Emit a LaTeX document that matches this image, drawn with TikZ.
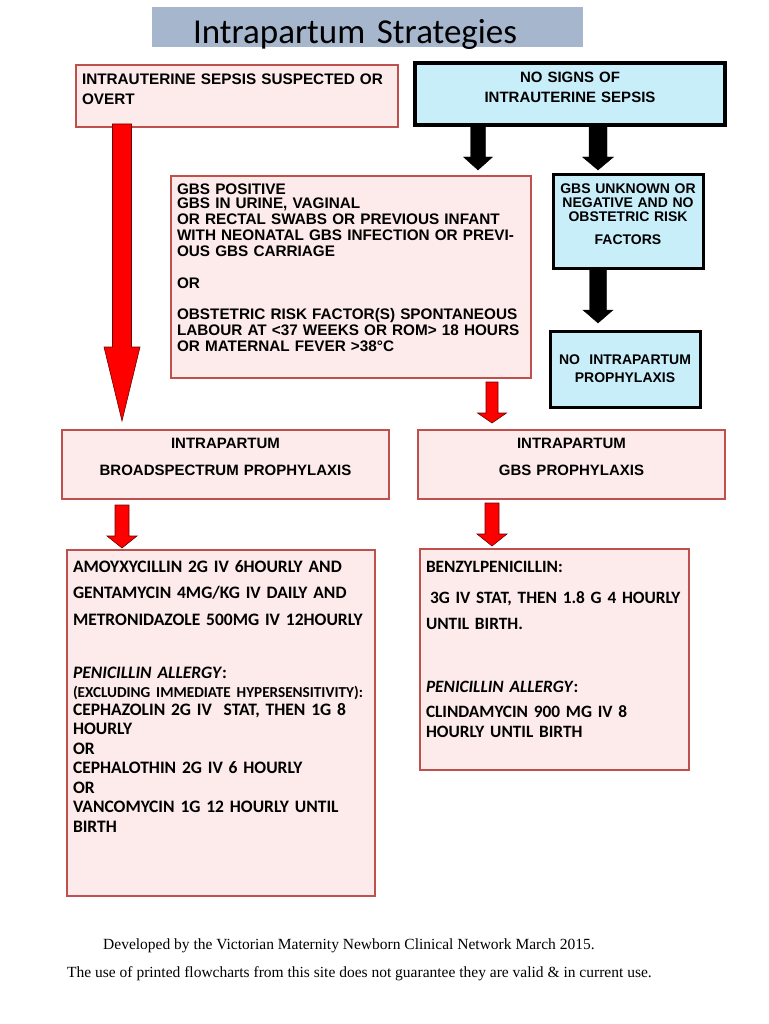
\documentclass[tikz,border=0pt]{standalone}
\usepackage{fontspec}
\setmainfont{Liberation Sans}
\newfontfamily\calibri{Carlito}
\newfontfamily\timesfont{Liberation Serif}
\usepackage{xcolor}
\usetikzlibrary{calc}
\definecolor{boxred}{RGB}{192,80,77}
\definecolor{pinkfill}{RGB}{253,234,234}
\definecolor{bluefill}{RGB}{200,238,250}
\definecolor{titlefill}{RGB}{166,182,204}
\definecolor{arrowred}{RGB}{255,0,0}
\definecolor{arrowedge}{RGB}{110,0,0}
% block arrow: style, from, to, half shaft, half head, head length
\newcommand{\blockarrow}[6]{%
  \filldraw[#1] let \p1=(#2), \p2=(#3) in
    (\x1-#4,\y1) -- (\x1+#4,\y1) -- (\x1+#4,\y2+#6) -- (\x1+#5,\y2+#6)
    -- (\x1,\y2) -- (\x1-#5,\y2+#6) -- (\x1-#4,\y2+#6) -- cycle;}

\begin{document}
\begin{tikzpicture}[
    x=1pt, y=-1pt,
    redbox/.style={draw=boxred, line width=2.5pt, fill=pinkfill, anchor=north west, outer sep=0pt,
      inner xsep=6pt, inner ysep=0pt, align=left, font=\bfseries\fontsize{15.3}{16}\selectfont},
    bluebox/.style={draw=black, line width=3.5pt, fill=bluefill, anchor=north west, outer sep=0pt,
      inner xsep=4pt, inner ysep=0pt, align=center, font=\bfseries\fontsize{14}{14}\selectfont},
    redarr/.style={fill=arrowred, draw=arrowedge, line width=0.6pt},
    blackarr/.style={fill=black, draw=black, line width=0.4pt},
    note/.style={font=\timesfont\fontsize{15.5}{17}\selectfont, anchor=west, inner sep=0pt}
]
  \path[fill=white] (0,0) rectangle (768,1024);
  \useasboundingbox (0,0) rectangle (768,1024);

  % title
  \node[fill=titlefill, anchor=north west, outer sep=0pt, inner xsep=41pt, inner ysep=0pt,
    text width=349pt, text height=37pt, text depth=3pt, align=left,
    font=\calibri\fontsize{35}{36}\selectfont] (title) at (152,7) {Intrapartum Strategies};

  % top boxes
  \node[redbox, text width=310pt, text height=19.5pt, text depth=42.5pt,
    font=\bfseries\fontsize{15.3}{20}\selectfont] (sepsis) at (76,65)
    {INTRAUTERINE SEPSIS SUSPECTED OR\\OVERT};
  \node[bluebox, text width=302pt, text height=19.5pt, text depth=42.5pt,
    font=\bfseries\fontsize{15}{20}\selectfont] (nosigns) at (415,63)
    {NO SIGNS OF\\INTRAUTERINE SEPSIS};

  % risk boxes
  \node[redbox, text width=348pt, text height=18.5pt, text depth=183.5pt] (gbspos) at (171,176)
    {GBS POSITIVE\\[-2pt]
     GBS IN URINE, VAGINAL\\
     OR RECTAL SWABS OR PREVIOUS INFANT\\
     WITH NEONATAL GBS INFECTION OR PREVI-\\
     OUS GBS CARRIAGE\\[16pt]
     OR\\[15pt]
     OBSTETRIC RISK FACTOR(S) SPONTANEOUS\\
     LABOUR AT <37 WEEKS OR ROM> 18 HOURS\\
     OR MATERNAL FEVER >38°C};
  \node[bluebox, line width=3pt, text width=142pt, text height=19pt, text depth=74pt] (gbsunk) at (553,175)
    {GBS UNKNOWN OR\\NEGATIVE AND NO\\OBSTETRIC RISK\\[9pt]FACTORS};
  \node[bluebox, line width=3pt, text width=142pt, text height=33pt, text depth=43pt,
    font=\bfseries\fontsize{14}{18}\selectfont] (noip) at (550,331)
    {NO~ INTRAPARTUM\\PROPHYLAXIS};

  % prophylaxis boxes
  \node[redbox, align=center, text width=315pt, text height=18.5pt, text depth=50.5pt,
    font=\bfseries\fontsize{15}{27}\selectfont] (broad) at (62,430)
    {INTRAPARTUM\\BROADSPECTRUM PROPHYLAXIS};
  \node[redbox, align=center, text width=295pt, text height=18.5pt, text depth=50.5pt,
    font=\bfseries\fontsize{15}{27}\selectfont] (gbsip) at (418,430)
    {INTRAPARTUM\\GBS PROPHYLAXIS};

  % drug boxes
  \node[redbox, text width=296pt, text height=22pt, text depth=324pt,
    font=\calibri\bfseries\fontsize{17.5}{19.5}\selectfont] (bigleft) at (67,550)
    {AMOYXYCILLIN 2G IV 6HOURLY AND\\[6.5pt]
     GENTAMYCIN 4MG/KG IV DAILY AND\\[7.5pt]
     METRONIDAZOLE 500MG IV 12HOURLY\\[33.5pt]
     \textit{PENICILLIN ALLERGY}:\\[-0.5pt]
     {\fontsize{15.2}{19.5}\selectfont (EXCLUDING IMMEDIATE HYPERSENSITIVITY):}\\[-1.5pt]
     CEPHAZOLIN 2G IV~ STAT, THEN 1G 8\\
     HOURLY\\
     OR\\
     CEPHALOTHIN 2G IV 6 HOURLY\\
     OR\\
     VANCOMYCIN 1G 12 HOURLY UNTIL\\
     BIRTH};
  \node[redbox, text width=257pt, text height=23.5pt, text depth=197.5pt,
    font=\calibri\bfseries\fontsize{17.3}{20}\selectfont] (bigright) at (420,549)
    {BENZYLPENICILLIN:\\[11pt]
     \hspace*{4pt}3G IV STAT, THEN 1.8 G 4 HOURLY\\[6pt]
     UNTIL BIRTH.\\[43pt]
     \textit{PENICILLIN ALLERGY}:\\[5pt]
     CLINDAMYCIN 900 MG IV 8\\
     HOURLY UNTIL BIRTH};

  % arrow columns
  \coordinate (lcol) at (122,0);
  \coordinate (mcol) at (478,0);
  \coordinate (rcol) at (598,0);
  \coordinate (gcol) at (492,0);

  % Arrows
  \blockarrow{redarr}{$(sepsis.south -| lcol)+(0,-3)$}{$(broad.north -| lcol)+(0,-9)$}{9.5pt}{18pt}{74pt}
  \blockarrow{blackarr}{$(nosigns.south -| mcol)+(0,2)$}{$(gbspos.north -| mcol)+(0,-6)$}{7.5pt}{14.5pt}{13pt}
  \blockarrow{blackarr}{$(nosigns.south -| rcol)+(0,2)$}{$(gbsunk.north -| rcol)+(0,-5)$}{9pt}{15.5pt}{13pt}
  \blockarrow{blackarr}{$(gbsunk.south -| rcol)+(0,2)$}{$(noip.north -| rcol)+(0,-8)$}{8.5pt}{15pt}{13pt}
  \blockarrow{redarr}{$(gbspos.south -| gcol)+(0,4)$}{$(gbsip.north -| gcol)+(0,-7)$}{6pt}{14.5pt}{10pt}
  \blockarrow{redarr}{$(broad.south -| lcol)+(0,6)$}{$(bigleft.north -| lcol)+(0,-2)$}{7pt}{15pt}{12pt}
  \blockarrow{redarr}{$(gbsip.south -| gcol)+(0,4)$}{$(bigright.north -| gcol)+(0,-3)$}{7pt}{15pt}{12pt}

  % footer
  \node[note] (credit) at (103,946) {Developed by the Victorian Maternity Newborn Clinical Network March 2015.};
  \node[note] (disclaimer) at (67,974) {The use of printed flowcharts from this site does not guarantee they are valid \& in current use.};
\end{tikzpicture}
\end{document}
